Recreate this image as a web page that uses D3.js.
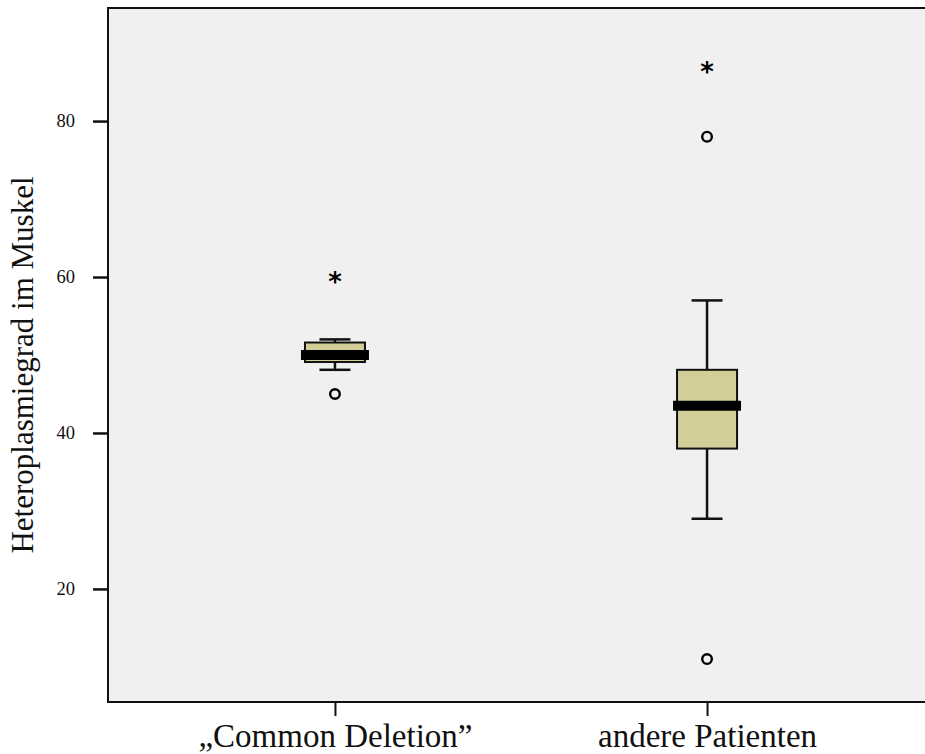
<!DOCTYPE html>
<html>
<head>
<meta charset="utf-8">
<script src="https://cdn.jsdelivr.net/npm/d3@7"></script>
<style>
  html, body { margin: 0; padding: 0; background: #ffffff; }
  svg { display: block; }
</style>
</head>
<body>
<script>
// ---- Data ----
const categories = ["\u201eCommon Deletion\u201d", "andere Patienten"];
const whiskerLow  = [48.1, 29.0];
const q1          = [49.1, 38.0];
const median      = [50.0, 43.5];
const q3          = [51.6, 48.1];
const whiskerHigh = [52.0, 57.0];
const outliers    = [[45], [78, 11]];   // circles
const extremes    = [[60], [87]];       // stars
const yTicks      = [20, 40, 60, 80];
const yTitle      = "Heteroplasmiegrad im Muskel";

const W = 925, H = 754;
const plot = { left: 108, top: 8, right: 934, bottom: 702 };
const serif = "'Liberation Serif', 'Times New Roman', serif";

const svg = d3.select("body").append("svg").attr("width", W).attr("height", H);

const y = d3.scaleLinear().domain([5.5, 94.5]).range([plot.bottom, plot.top]);
const x = d3.scalePoint().domain(categories).range([plot.left, plot.right]).padding(0.61);

// plot background
svg.append("rect")
  .attr("x", plot.left).attr("y", plot.top)
  .attr("width", plot.right - plot.left).attr("height", plot.bottom - plot.top)
  .attr("fill", "#f0f0f0");

// frame lines (left, top, bottom)
svg.append("path")
  .attr("d", `M${plot.right},${plot.top}H${plot.left}V${plot.bottom}H${plot.right}`)
  .attr("fill", "none").attr("stroke", "#111").attr("stroke-width", 2);

// y axis
const yAxis = svg.append("g")
  .attr("transform", `translate(${plot.left},0)`)
  .call(d3.axisLeft(y).tickValues(yTicks).tickSize(15).tickPadding(18).tickFormat(d3.format("d")));
yAxis.select(".domain").remove();
yAxis.selectAll(".tick line").attr("stroke", "#111").attr("stroke-width", 2.5);
yAxis.selectAll(".tick text")
  .attr("font-family", serif)
  .attr("font-size", 18.5).attr("fill", "#111");

// x axis
const xAxis = svg.append("g")
  .attr("transform", `translate(0,${plot.bottom})`)
  .call(d3.axisBottom(x).tickSize(14).tickPadding(0));
xAxis.select(".domain").remove();
xAxis.selectAll(".tick line").attr("stroke", "#111").attr("stroke-width", 2);
xAxis.selectAll(".tick text")
  .attr("font-family", serif)
  .attr("font-size", 33).attr("fill", "#111")
  .attr("y", 45).attr("dy", null);

// y title
svg.append("text")
  .attr("transform", `translate(33,${(plot.top + plot.bottom) / 2 + 10}) rotate(-90)`)
  .attr("text-anchor", "middle")
  .attr("font-family", serif)
  .attr("font-size", 31).attr("fill", "#111")
  .text(yTitle);

// boxes
const boxW = 60, capW = 31, medW = 68;
const groups = svg.append("g").selectAll("g")
  .data(categories.map((c, i) => ({ c, i })))
  .join("g")
  .attr("transform", d => `translate(${x(d.c)},0)`);

// whiskers
groups.append("line")
  .attr("x1", 0).attr("x2", 0)
  .attr("y1", d => y(whiskerHigh[d.i])).attr("y2", d => y(whiskerLow[d.i]))
  .attr("stroke", "#111").attr("stroke-width", 2.5);
groups.append("line")
  .attr("x1", -capW / 2).attr("x2", capW / 2)
  .attr("y1", d => y(whiskerHigh[d.i])).attr("y2", d => y(whiskerHigh[d.i]))
  .attr("stroke", "#111").attr("stroke-width", 2.5);
groups.append("line")
  .attr("x1", -capW / 2).attr("x2", capW / 2)
  .attr("y1", d => y(whiskerLow[d.i])).attr("y2", d => y(whiskerLow[d.i]))
  .attr("stroke", "#111").attr("stroke-width", 2.5);

// box
groups.append("rect")
  .attr("x", -boxW / 2).attr("width", boxW)
  .attr("y", d => y(q3[d.i])).attr("height", d => y(q1[d.i]) - y(q3[d.i]))
  .attr("fill", "#d3ce98").attr("stroke", "#111").attr("stroke-width", 2);

// median
groups.append("line")
  .attr("x1", -medW / 2).attr("x2", medW / 2)
  .attr("y1", d => y(median[d.i])).attr("y2", d => y(median[d.i]))
  .attr("stroke", "#000").attr("stroke-width", 10);

// outliers (circles)
groups.selectAll("circle.out")
  .data(d => outliers[d.i])
  .join("circle")
  .attr("class", "out")
  .attr("cx", 0).attr("cy", v => y(v)).attr("r", 4.8)
  .attr("fill", "none").attr("stroke", "#000").attr("stroke-width", 2.4);

// extremes (stars)
groups.selectAll("text.ext")
  .data(d => extremes[d.i])
  .join("text")
  .attr("class", "ext")
  .attr("x", 0).attr("y", v => y(v))
  .attr("dy", "0.55em")
  .attr("text-anchor", "middle")
  .attr("font-family", "'DejaVu Sans', sans-serif")
  .attr("font-weight", "bold")
  .attr("font-size", 26)
  .attr("fill", "#000")
  .text("*");
</script>
</body>
</html>
